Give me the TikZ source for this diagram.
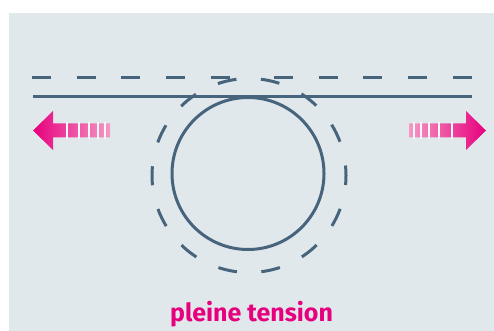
\documentclass[tikz,border=0pt]{standalone}
\usepackage{fontspec}
\setmainfont{Fira Sans}
\usepackage{tikz}

\definecolor{bgblue}{HTML}{E1E8EC}
\definecolor{steel}{HTML}{46647C}
\definecolor{hotpink}{HTML}{E6007E}
\definecolor{softpink}{HTML}{F598C4}

\tikzset{
    rope/.style={line width=3pt, steel},
    ropedash/.style={rope, dash pattern=on 19pt off 25.7pt},
    loopdash/.style={rope, dash pattern=on 19pt off 24.5pt, dash phase=9.5pt},
    gap/.style={line width=2pt, bgblue!30!white}
}

\begin{document}
\begin{tikzpicture}[x=1pt, y=-1pt]
        \useasboundingbox (0,0) rectangle (494,331);
        \fill[bgblue] (9,13) rectangle (494,331);
        \def\ry{130.5}
        \coordinate (c) at (248,173.5);
        \coordinate (cd) at (249,175.5);
        % lines
        \draw[ropedash] (32,78) -- (230,78);
        \draw[ropedash] (274,78) -- (472,78);
        \draw[rope] (33,97) -- (472,97);
        % circles
        \draw[rope] (c) circle (76);
        \draw[loopdash] (cd) circle (97);
        % left arrow
        \shade[left color=hotpink, right color=softpink]
            (33,\ry) -- (53,111) -- (53,123.5) -- (110,123.5) -- (110,137.5)
            -- (53,137.5) -- (53,150) -- cycle;
        \foreach \x in {67,79,89,98,105}
            \draw[gap] (\x,122) -- (\x,139);
        % right arrow
        \shade[right color=hotpink, left color=softpink]
            (486,\ry) -- (466,111) -- (466,123.5) -- (409,123.5) -- (409,137.5)
            -- (466,137.5) -- (466,150) -- cycle;
        \foreach \x in {452,439,429,421,414}
            \draw[gap] (\x,122) -- (\x,139);
        % label
        \node[text=hotpink, font=\fontsize{25}{28}\selectfont\bfseries, anchor=base] (lbl) at (251.5,321) {pleine tension};
    \end{tikzpicture}
\end{document}
